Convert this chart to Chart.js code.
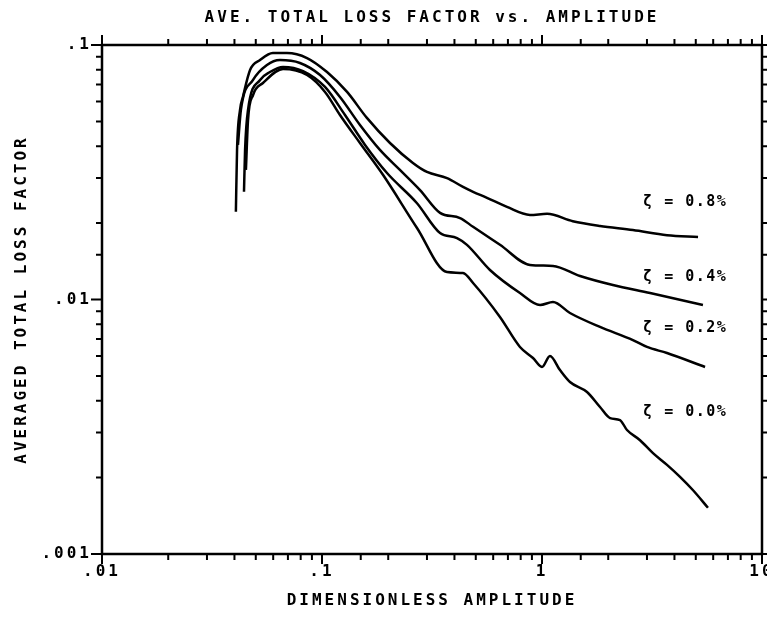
<!DOCTYPE html>
<html><head><meta charset="utf-8">
<script src="https://cdn.jsdelivr.net/npm/chart.js@4/dist/chart.umd.min.js"></script>
<style>html,body{margin:0;padding:0;background:#fff;}canvas{display:block;background:#fff;}</style>
</head><body>
<canvas id="c" width="767" height="618"></canvas>
<script>
const chartTitle = 'AVE. TOTAL LOSS FACTOR vs. AMPLITUDE';
const xTitle = 'DIMENSIONLESS AMPLITUDE';
const yTitle = 'AVERAGED TOTAL LOSS FACTOR';
const xTickLabels = ['.01', '.1', '1', '10'];
const yTickLabels = ['.001', '.01', '.1'];
const seriesNames = ['ζ = 0.8%', 'ζ = 0.4%', 'ζ = 0.2%', 'ζ = 0.0%'];

const amp08 = [0.0406,0.0411,0.0424,0.0437,0.0471,0.0523,0.0598,0.0693,0.0855,0.1054,0.130,0.160,0.2037,0.259,0.300,0.370,0.4375,0.486,0.562,0.693,0.882,1.054,1.38,1.835,2.59,3.70,5.12];
const loss08 = [0.0221,0.0387,0.0556,0.0625,0.0798,0.0873,0.093,0.093,0.0889,0.0783,0.0654,0.0517,0.0412,0.0344,0.0317,0.0300,0.0277,0.0265,0.0251,0.0231,0.0215,0.0217,0.0203,0.01945,0.01875,0.0179,0.0176];

const amp04 = [0.0415,0.0428,0.0486,0.0562,0.0644,0.0794,0.098,0.1207,0.1488,0.1834,0.226,0.279,0.344,0.424,0.486,0.644,0.882,1.122,1.489,2.10,3.10,5.39];
const loss04 = [0.0405,0.0556,0.0729,0.0835,0.0873,0.0850,0.0762,0.0625,0.0485,0.0387,0.0323,0.0269,0.0219,0.0209,0.0193,0.0164,0.01367,0.01355,0.01237,0.0114,0.0106,0.00951];

const amp02 = [0.0442,0.0447,0.0461,0.0523,0.058,0.0665,0.082,0.1032,0.1272,0.1569,0.1975,0.2703,0.344,0.4108,0.456,0.580,0.794,0.980,1.122,1.34,1.835,2.59,3.00,3.70,5.51];
const loss02 = [0.0265,0.0387,0.0556,0.0729,0.0783,0.082,0.0790,0.0684,0.0531,0.0405,0.0314,0.0239,0.01825,0.01744,0.0164,0.01306,0.0106,0.00951,0.00978,0.00885,0.0078,0.00693,0.00651,0.00616,0.00543];

const amp00 = [0.0451,0.0461,0.0486,0.0539,0.0665,0.0855,0.1032,0.1207,0.1488,0.1893,0.2703,0.370,0.4375,0.486,0.644,0.794,0.910,1.0,1.087,1.207,1.34,1.602,1.835,2.04,2.262,2.434,2.79,3.195,3.70,4.24,4.86,5.68];
const loss00 = [0.0323,0.0507,0.0636,0.0709,0.0805,0.0762,0.0654,0.0531,0.0412,0.0309,0.0191,0.01282,0.01271,0.01161,0.00854,0.00651,0.00589,0.00543,0.0060,0.00528,0.00474,0.00433,0.00378,0.00342,0.00336,0.00307,0.0028,0.00249,0.00224,0.00201,0.00178,0.00152];

// where each series label sits (data units)
const labelAmp = [2.88, 2.88, 2.88, 2.88];
const labelLoss = [0.0242, 0.0123, 0.0077, 0.0036];

const FONT = 'DejaVu Sans Mono';
const SPACING = '3px';

function pts(xs, ys) { return xs.map((x, i) => ({ x: x, y: ys[i] })); }
function isDecade(v) { const l = Math.log10(v); return Math.abs(l - Math.round(l)) < 1e-6; }
function decadeLabel(v, labels, startExp) {
  if (!isDecade(v)) return '';
  const s = labels[Math.round(Math.log10(v)) - startExp];
  return s === undefined ? '' : s;
}

const plotterPlugin = {
  id: 'plotter',
  beforeUpdate(chart) { chart.ctx.letterSpacing = SPACING; },
  beforeDraw(chart) { chart.ctx.letterSpacing = SPACING; },
  afterDraw(chart) {
    const ctx = chart.ctx, a = chart.chartArea, x = chart.scales.x, y = chart.scales.y;
    ctx.save();
    ctx.strokeStyle = '#000';
    ctx.lineWidth = 2.5;
    ctx.strokeRect(a.left, a.top, a.right - a.left, a.bottom - a.top);
    ctx.lineWidth = 2;
    ctx.beginPath();
    x.ticks.forEach(t => {
      const p = x.getPixelForValue(t.value), L = isDecade(t.value) ? 10 : 6;
      ctx.moveTo(p, a.bottom); ctx.lineTo(p, a.bottom + L);
      ctx.moveTo(p, a.top); ctx.lineTo(p, a.top - L);
    });
    y.ticks.forEach(t => {
      const p = y.getPixelForValue(t.value), L = isDecade(t.value) ? 11 : 6;
      ctx.moveTo(a.left, p); ctx.lineTo(a.left - L, p);
      ctx.moveTo(a.right, p); ctx.lineTo(a.right + L, p);
    });
    ctx.stroke();
    ctx.fillStyle = '#000';
    ctx.font = 'bold 15px "' + FONT + '"';
    ctx.letterSpacing = '1.5px';
    ctx.textAlign = 'left';
    ctx.textBaseline = 'middle';
    seriesNames.forEach((s, i) => {
      ctx.fillText(s, x.getPixelForValue(labelAmp[i]), y.getPixelForValue(labelLoss[i]));
    });
    ctx.restore();
  }
};

const lineStyle = { borderColor: '#000', borderWidth: 2.5, pointRadius: 0, fill: false, cubicInterpolationMode: 'monotone' };
const font16 = { family: FONT, size: 16, weight: 'bold' };

new Chart(document.getElementById('c'), {
  type: 'line',
  data: {
    datasets: [
      Object.assign({ label: seriesNames[0], data: pts(amp08, loss08) }, lineStyle),
      Object.assign({ label: seriesNames[1], data: pts(amp04, loss04) }, lineStyle),
      Object.assign({ label: seriesNames[2], data: pts(amp02, loss02) }, lineStyle),
      Object.assign({ label: seriesNames[3], data: pts(amp00, loss00) }, lineStyle)
    ]
  },
  options: {
    responsive: false,
    devicePixelRatio: 1,
    animation: false,
    layout: { padding: { top: 0, right: 5, bottom: 0, left: 0 } },
    plugins: {
      legend: { display: false },
      tooltip: { enabled: false },
      title: { display: true, text: chartTitle, color: '#000', font: font16, fullSize: false, padding: { top: 8, bottom: 17.8 } }
    },
    scales: {
      x: {
        type: 'logarithmic', min: 0.01, max: 10, position: 'bottom',
        grid: { display: false, drawTicks: false }, border: { display: false },
        ticks: { autoSkip: false, maxRotation: 0, padding: 8, color: '#000', font: font16,
          callback: v => decadeLabel(v, xTickLabels, -2) },
        title: { display: true, text: xTitle, color: '#000', font: font16, padding: { top: 1.6, bottom: 8 } },
        afterFit(s) { s.paddingLeft = 0; s.paddingRight = 0; }
      },
      y: {
        type: 'logarithmic', min: 0.001, max: 0.1, position: 'left',
        grid: { display: false, drawTicks: false }, border: { display: false },
        ticks: { autoSkip: false, padding: 10, color: '#000', font: font16,
          callback: v => decadeLabel(v, yTickLabels, -3) },
        title: { display: true, text: yTitle, color: '#000', font: font16, padding: { top: 12.4, bottom: 0 } },
        afterFit(s) { s.width = 102; s.paddingTop = 0; s.paddingBottom = 0; }
      }
    }
  },
  plugins: [plotterPlugin]
});
</script>
</body></html>
